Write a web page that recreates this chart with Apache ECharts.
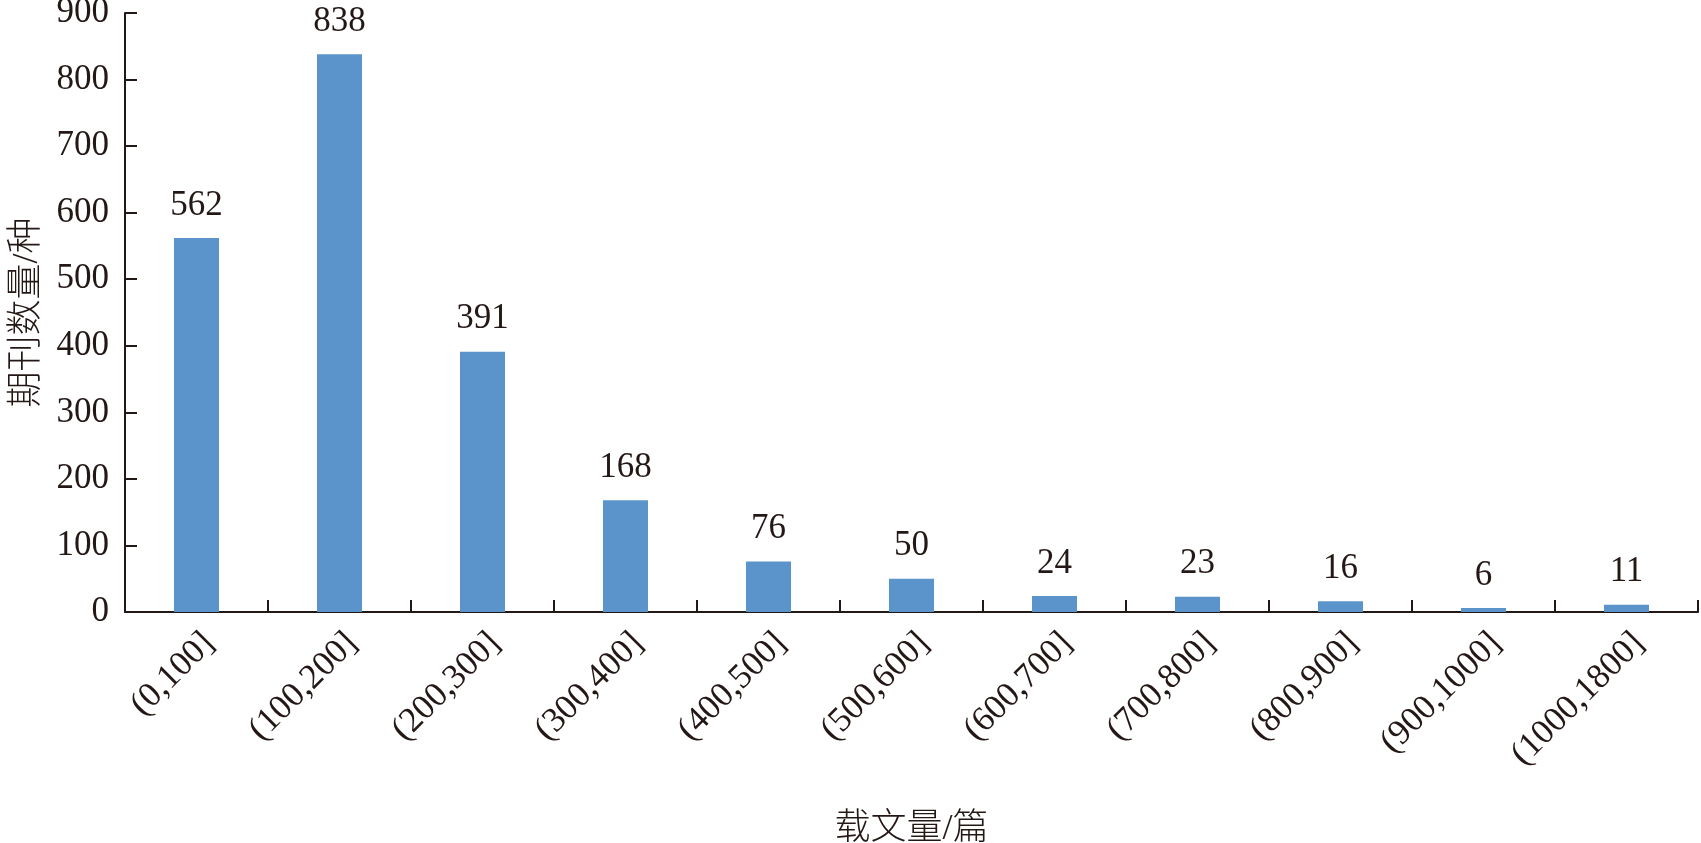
<!DOCTYPE html>
<html>
<head>
<meta charset="utf-8">
<script src="https://cdn.jsdelivr.net/npm/echarts@6/dist/echarts.min.js"></script>
<style>
html,body{margin:0;padding:0;background:#fff;}
#c{width:1701px;height:843px;}
</style>
</head>
<body>
<div id="c"></div>
<script>
const categories = ['(0,100]','(100,200]','(200,300]','(300,400]','(400,500]','(500,600]','(600,700]','(700,800]','(800,900]','(900,1000]','(1000,1800]'];
const values = [562, 838, 391, 168, 76, 50, 24, 23, 16, 6, 11];
const yTicks = {min: 0, max: 900, interval: 100};
const xName = '载文量/篇';
const yName = '期刊数量/种';

const serif = '"Liberation Serif", "Times New Roman", serif';
const cjk = '"Liberation Serif", "Noto Sans CJK SC", serif';
const ink = '#231815';

const chart = echarts.init(document.getElementById('c'));
chart.setOption({
  backgroundColor: '#fff',
  animation: false,
  grid: {left: 125, right: 3, top: 13, bottom: 231, containLabel: false, outerBoundsMode: 'none'},
  xAxis: {
    type: 'category',
    data: categories,
    name: xName,
    nameLocation: 'middle',
    nameGap: 200,
    nameTextStyle: {fontFamily: cjk, fontSize: 36, color: ink, fontWeight: 300},
    axisLine: {lineStyle: {color: ink, width: 2}},
    axisTick: {show: true, inside: true, length: 12, alignWithLabel: false, lineStyle: {color: ink, width: 2}},
    axisLabel: {rotate: 45, interval: 0, margin: 14, verticalAlign: 'top', fontFamily: serif, fontSize: 35, color: ink}
  },
  yAxis: {
    type: 'value',
    min: yTicks.min, max: yTicks.max, interval: yTicks.interval,
    name: yName,
    nameLocation: 'middle',
    nameRotate: 90,
    nameGap: 78,
    nameTextStyle: {fontFamily: cjk, fontSize: 36, color: ink, fontWeight: 300},
    splitLine: {show: false},
    axisLine: {show: true, lineStyle: {color: ink, width: 2}},
    axisTick: {show: true, inside: true, length: 12, lineStyle: {color: ink, width: 2}},
    axisLabel: {margin: 16, padding: [5, 0, 0, 0], fontFamily: serif, fontSize: 35, color: ink}
  },
  series: [{
    type: 'bar',
    data: values,
    barWidth: '31.5%',
    itemStyle: {color: '#5B94CA'},
    label: {show: true, position: 'top', distance: 15, fontFamily: serif, fontSize: 35, color: ink}
  }]
});
</script>
</body>
</html>
